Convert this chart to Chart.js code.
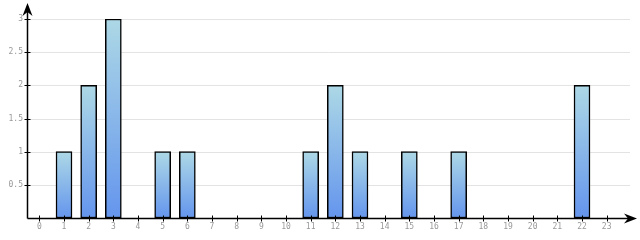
<!DOCTYPE html>
<html>
<head>
<meta charset="utf-8">
<script src="https://cdn.jsdelivr.net/npm/chart.js@4"></script>
<style>
  html,body{margin:0;padding:0;background:#fff;}
  #wrap{width:640px;height:240px;position:relative;}
</style>
</head>
<body>
<div id="wrap"><canvas id="c"></canvas></div>
<script>
// categories and values
const hours=['0','1','2','3','4','5','6','7','8','9','10','11','12','13','14','15','16','17','18','19','20','21','22','23'];
const counts=[0,1,2,3,0,1,1,0,0,0,0,1,2,1,0,1,0,1,0,0,0,0,2,0];
const yTicks=[0.5,1,1.5,2,2.5,3];

const labelFont={family:'DejaVu Sans Mono',size:8};
const labelColor='#999';

function barGradient(c){
  const chart=c.chart;
  if(!chart.chartArea||c.parsed==null) return '#6495ed';
  const y=chart.scales.y;
  const top=y.getPixelForValue(c.parsed.y), bot=y.getPixelForValue(0);
  if(!isFinite(top)||top===bot) return '#6495ed';
  const g=chart.ctx.createLinearGradient(0,top,0,bot);
  g.addColorStop(0,'#add8e6');
  g.addColorStop(1,'#6495ed');
  return g;
}

// grid lines + axes with arrows, drawn past the plot area like the original
const axesPlugin={
  id:'axesArrows',
  beforeDatasetsDraw(chart){
    const {ctx,chartArea:a,scales:{x,y}}=chart;
    ctx.save();
    ctx.strokeStyle='#e3e3e3';ctx.lineWidth=1;
    yTicks.forEach(v=>{
      const py=Math.round(y.getPixelForValue(v))+0.5;
      ctx.beginPath();ctx.moveTo(a.left,py);ctx.lineTo(630,py);ctx.stroke();
    });
    ctx.restore();
  },
  afterDatasetsDraw(chart){
    const {ctx,chartArea:a,scales:{x,y}}=chart;
    const x0=Math.round(a.left)+0.5, y0=Math.round(y.getPixelForValue(0))+0.5;
    ctx.save();
    ctx.strokeStyle='#000';ctx.fillStyle='#000';ctx.lineWidth=1.5;
    ctx.beginPath();ctx.moveTo(x0,y0);ctx.lineTo(x0,6);ctx.stroke();
    ctx.beginPath();ctx.moveTo(x0,y0);ctx.lineTo(632,y0);ctx.stroke();
    ctx.lineWidth=1;
    // tick marks
    hours.forEach((h,i)=>{
      const px=Math.round(x.getPixelForValue(i))+0.5;
      ctx.beginPath();ctx.moveTo(px,y0-3);ctx.lineTo(px,y0+3);ctx.stroke();
    });
    yTicks.forEach(v=>{
      const py=Math.round(y.getPixelForValue(v))+0.5;
      ctx.beginPath();ctx.moveTo(x0-3,py);ctx.lineTo(x0+3,py);ctx.stroke();
    });
    // arrow heads
    ctx.beginPath();
    ctx.moveTo(x0,3);ctx.lineTo(x0+5,16);ctx.lineTo(x0,12);ctx.lineTo(x0-5,16);ctx.closePath();ctx.fill();
    ctx.beginPath();
    ctx.moveTo(637,y0);ctx.lineTo(624,y0-5);ctx.lineTo(628,y0);ctx.lineTo(624,y0+5);ctx.closePath();ctx.fill();
    ctx.restore();
  }
};

new Chart(document.getElementById('c'),{
  type:'bar',
  data:{labels:hours,datasets:[{
    data:counts,
    backgroundColor:barGradient,
    borderColor:'#000',
    borderWidth:1.5,
    borderSkipped:false,
    barThickness:16
  }]},
  options:{
    responsive:true,
    maintainAspectRatio:false,
    animation:false,
    layout:{padding:{top:19,right:21,left:0,bottom:0}},
    plugins:{legend:{display:false},tooltip:{enabled:false}},
    scales:{
      x:{
        grid:{display:false,drawTicks:false},
        border:{display:false},
        ticks:{color:labelColor,font:labelFont,padding:4,maxRotation:0,autoSkip:false},
        afterFit:s=>{s.height=22;}
      },
      y:{
        min:0,max:3,
        grid:{display:false,drawTicks:false},
        border:{display:false},
        afterBuildTicks:s=>{s.ticks=yTicks.map(v=>({value:v}));},
        ticks:{color:labelColor,font:labelFont,padding:4,callback:v=>String(v)},
        afterFit:s=>{s.width=27;}
      }
    }
  },
  plugins:[axesPlugin]
});
</script>
</body>
</html>
